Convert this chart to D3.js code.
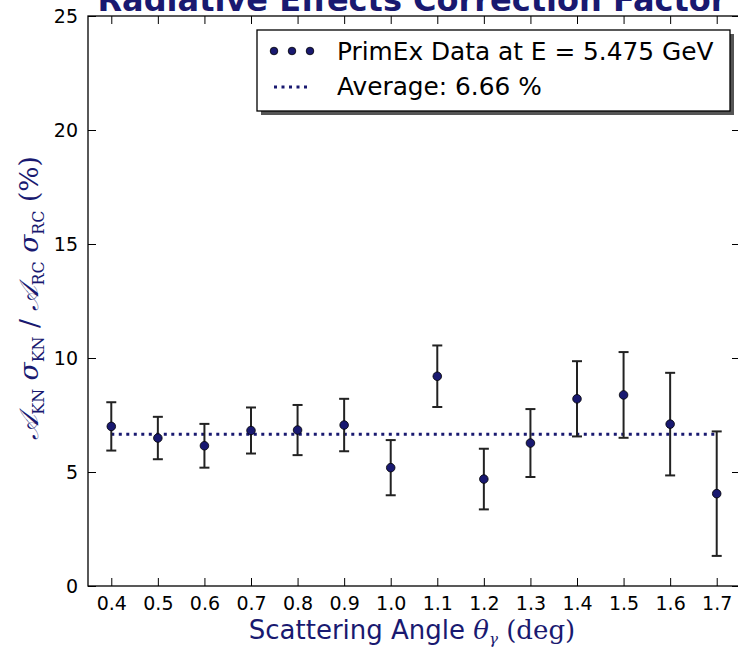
<!DOCTYPE html>
<html>
<head>
<meta charset="utf-8">
<script src="https://cdn.jsdelivr.net/npm/d3@7/dist/d3.min.js"></script>
<style>
  body { margin: 0; background: #fff; }
  svg { display: block; }
</style>
</head>
<body>
<script>
// scattering angles (deg), correction factor (%), and its error
const angles = [0.4, 0.5, 0.6, 0.7, 0.8, 0.9, 1.0, 1.1, 1.2, 1.3, 1.4, 1.5, 1.6, 1.7];
const factors = [7.00, 6.49, 6.15, 6.82, 6.84, 7.06, 5.19, 9.20, 4.69, 6.27, 8.21, 8.38, 7.10, 4.05];
const errors = [1.06, 0.93, 0.96, 1.01, 1.10, 1.15, 1.21, 1.35, 1.33, 1.49, 1.65, 1.88, 2.25, 2.73];
const average = 6.66;
const xTicks = [0.4, 0.5, 0.6, 0.7, 0.8, 0.9, 1.0, 1.1, 1.2, 1.3, 1.4, 1.5, 1.6, 1.7];
const yTicks = [0, 5, 10, 15, 20, 25];

const navy = '#191970';
const W = 738, H = 647;
const margin = { top: 16, right: -2, bottom: 61, left: 88 };
const width = W - margin.left - margin.right,
      height = H - margin.top - margin.bottom;

let x = d3.scaleLinear().domain([0.35, 1.75]).range([0, width]),
    y = d3.scaleLinear().domain([0, 25]).range([height, 0]);

let svg = d3.select('body')
            .append('svg').attr('width', W).attr('height', H)
            .style('font-family', "'DejaVu Sans', sans-serif");

let g = svg.append('g').attr('transform', `translate(${margin.left}, ${margin.top})`);

// axes: ticks inside, on all four sides
const tickLen = 8;
let xAxis = d3.axisBottom(x).tickValues(xTicks).tickFormat(d3.format('.1f')).tickSizeInner(-tickLen).tickSizeOuter(0).tickPadding(11);
let xTop = d3.axisTop(x).tickValues(xTicks).tickFormat('').tickSizeInner(-tickLen).tickSizeOuter(0);
let yAxis = d3.axisLeft(y).tickValues(yTicks).tickSizeInner(-tickLen).tickSizeOuter(0).tickPadding(10);
let yRight = d3.axisRight(y).tickValues(yTicks).tickFormat('').tickSizeInner(-tickLen).tickSizeOuter(0);

g.append('g').attr('transform', `translate(0, ${height})`).call(xAxis);
g.append('g').call(xTop);
g.append('g').call(yAxis);
g.append('g').attr('transform', `translate(${width}, 0)`).call(yRight);

g.selectAll('.domain').remove();
g.selectAll('.tick line').attr('stroke', '#000').attr('stroke-width', 1);
g.selectAll('.tick text').attr('fill', '#000').style('font-size', '19px').style('font-family', "'DejaVu Sans', sans-serif");

g.append('rect').attr('x', 0).attr('y', 0).attr('width', width).attr('height', height)
 .attr('fill', 'none').attr('stroke', '#000').attr('stroke-width', 1.3);

// average line
g.append('line')
 .attr('x1', x(angles[0])).attr('x2', x(angles[angles.length - 1]))
 .attr('y1', y(average)).attr('y2', y(average))
 .attr('stroke', navy).attr('stroke-width', 3).attr('stroke-dasharray', '3,4.5');

// error bars
const data = angles.map((a, i) => ({ a, v: factors[i], e: errors[i] }));
let eb = g.append('g').attr('stroke', '#222').attr('stroke-width', 2);
eb.selectAll('.bar').data(data).join('line')
  .attr('x1', d => x(d.a)).attr('x2', d => x(d.a))
  .attr('y1', d => y(d.v - d.e)).attr('y2', d => y(d.v + d.e));
eb.selectAll('.capt').data(data).join('line')
  .attr('x1', d => x(d.a) - 5).attr('x2', d => x(d.a) + 5)
  .attr('y1', d => y(d.v + d.e)).attr('y2', d => y(d.v + d.e));
eb.selectAll('.capb').data(data).join('line')
  .attr('x1', d => x(d.a) - 5).attr('x2', d => x(d.a) + 5)
  .attr('y1', d => y(d.v - d.e)).attr('y2', d => y(d.v - d.e));

g.selectAll('circle.pt').data(data).join('circle')
 .attr('cx', d => x(d.a)).attr('cy', d => y(d.v)).attr('r', 4.3)
 .attr('fill', navy).attr('stroke', '#000').attr('stroke-width', 0.8);

// title (clipped at top in the reference)
svg.append('text').attr('x', margin.left + width / 2 - 2).attr('y', 11)
   .attr('text-anchor', 'middle').attr('fill', navy)
   .style('font-size', '32px').style('font-weight', 'bold')
   .text('Radiative Effects Correction Factor');

// x label
let xl = svg.append('text').attr('x', margin.left + width / 2 - 2).attr('y', 639)
            .attr('text-anchor', 'middle').attr('fill', navy).style('font-size', '26px');
xl.append('tspan').text('Scattering Angle ');
xl.append('tspan').style('font-family', "'DejaVu Serif', serif").style('font-style', 'italic').text('θ');
xl.append('tspan').style('font-family', "'DejaVu Serif', serif").style('font-style', 'italic')
  .style('font-size', '15px').attr('dy', 5).text('γ');
xl.append('tspan').style('font-family', "'DejaVu Serif', serif").attr('dy', -5).text('  (deg)');

// y label
let yl = svg.append('text').attr('transform', 'translate(38, 298) rotate(-90)')
            .attr('text-anchor', 'middle').attr('fill', navy)
            .style('font-size', '26.5px').style('font-family', "'DejaVu Serif', serif");
const ySub = (sel, main, sub, first) => {
  sel.append('tspan').style('font-style', 'italic').attr('dy', first ? 0 : -6).text(main);
  sel.append('tspan').style('font-size', '16px').attr('dy', 6).text(sub);
};
ySub(yl, '𝒜', 'KN', true);
ySub(yl, ' σ', 'KN', false);
yl.append('tspan').attr('dy', -6).text(' / ');
ySub(yl, '𝒜', 'RC', true);
ySub(yl, ' σ', 'RC', false);
yl.append('tspan').attr('dy', -6).text(' (%)');

// legend
let lg = svg.append('g').attr('transform', 'translate(257, 30)');
lg.append('rect').attr('x', 4).attr('y', 4).attr('width', 473).attr('height', 81).attr('fill', '#555');
lg.append('rect').attr('x', 0).attr('y', 0).attr('width', 473).attr('height', 81)
  .attr('fill', '#fff').attr('stroke', '#000').attr('stroke-width', 1.3);
lg.selectAll('circle').data([17, 35, 53]).join('circle')
  .attr('cx', d => d).attr('cy', 21).attr('r', 3.8)
  .attr('fill', navy).attr('stroke', '#000').attr('stroke-width', 0.8);
lg.append('line').attr('x1', 17).attr('x2', 53).attr('y1', 57).attr('y2', 57)
  .attr('stroke', navy).attr('stroke-width', 3).attr('stroke-dasharray', '3,4.5');
lg.append('text').attr('x', 80).attr('y', 30).style('font-size', '24.8px').text('PrimEx Data at E = 5.475 GeV');
lg.append('text').attr('x', 80).attr('y', 65).style('font-size', '24.8px').text('Average: 6.66 %');
</script>
</body>
</html>
